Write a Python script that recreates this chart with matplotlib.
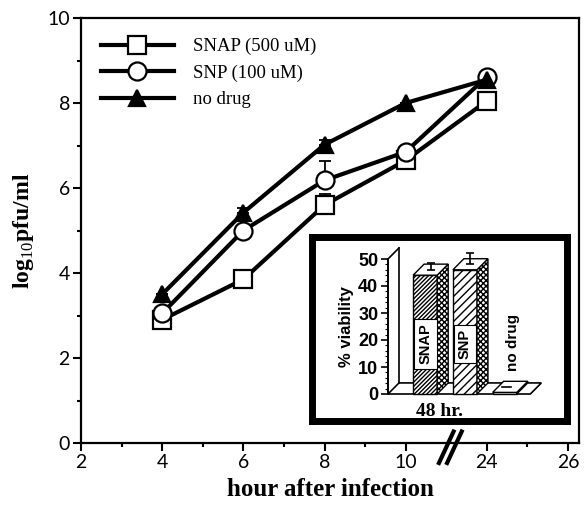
import matplotlib
matplotlib.use("Agg")
import matplotlib.pyplot as plt
from matplotlib.patches import Polygon, Rectangle

# ---- data ----
hours = [4, 6, 8, 10, 24]
snap = [2.9, 3.85, 5.6, 6.65, 8.05]
snp = [3.05, 5.0, 6.18, 6.85, 8.62]
no_drug = [3.5, 5.42, 7.02, 8.0, 8.55]
snap_err = [0, 0, 0.25, 0, 0]
snp_err = [0, 0, 0.45, 0, 0]
no_drug_err = [0, 0.12, 0.12, 0, 0]

series_labels = ["SNAP (500 uM)", "SNP (100 uM)", "no drug"]

tick_hours = [2, 4, 6, 8, 10, 24, 26]
minor_hours = [3, 5, 7, 9, 25]

inset_labels = ["SNAP", "SNP", "no drug"]
viability = [44, 46, 0.6]
viability_err = [2.5, 4, 0]

# broken x axis: 24 h sits two units right of 10 h
def xpos(h):
    return h if h <= 10 else h - 12

plt.rcParams["font.family"] = ["Liberation Serif", "DejaVu Serif"]
plt.rcParams["mathtext.fontset"] = "custom"
plt.rcParams["mathtext.rm"] = "Liberation Serif"
plt.rcParams["hatch.linewidth"] = 1.0

fig = plt.figure(figsize=(5.87, 5.05), dpi=100)
ax = fig.add_axes([81 / 587, 62 / 505, 498 / 587, 425 / 505])

x = [xpos(h) for h in hours]
styles = [
    (snap, snap_err, "s", 12.5),
    (snp, snp_err, "o", 13),
    (no_drug, no_drug_err, "^", 12),
]
for (vals, err, mk, ms), lab in zip(styles, series_labels):
    ax.errorbar(x, vals, yerr=[[0] * len(err), err], fmt="none", ecolor="black",
                elinewidth=1.3, capsize=4, capthick=1.3, zorder=2)
    ax.plot(x, vals, color="black", lw=3, marker=mk, ms=ms,
            mfc="black" if mk == "^" else "white", mec="black", mew=1.6,
            label=lab, zorder=3)

ax.set_xlim(2, 14.27)
ax.set_ylim(0, 10)
ax.set_xticks([xpos(h) for h in tick_hours])
ax.set_xticklabels([str(h) for h in tick_hours])
ax.set_xticks([xpos(h) for h in minor_hours], minor=True)
ax.set_yticks(range(0, 11, 2))
ax.set_yticks(range(1, 10, 2), minor=True)
for lbl in ax.get_xticklabels() + ax.get_yticklabels():
    lbl.set_family("Lato")
    lbl.set_fontsize(14)
ax.tick_params(which="major", direction="out", length=6, width=1.5, pad=2)
ax.tick_params(which="minor", direction="out", length=3, width=1.5)
for s in ax.spines.values():
    s.set_linewidth(1.6)

ax.set_xlabel("hour after infection", fontsize=18, fontweight="bold", labelpad=5)
ax.set_ylabel("log$_{10}$pfu/ml", fontsize=17, fontweight="bold", labelpad=8)

# break marks on the x axis
for off in (0, 0.2):
    ax.plot([10.82 + off, 11.18 + off], [-0.47, 0.27], color="black", lw=3,
            clip_on=False, zorder=5)

ax.legend(loc="upper left", bbox_to_anchor=(0.04, 0.953), frameon=False,
          fontsize=13.5, handlelength=3.9, handletextpad=1.0,
          labelspacing=0.5, borderaxespad=0, borderpad=0)

# ---- inset ----
frame = fig.add_axes([311.5 / 587, (505 - 420.5) / 505, 255 / 587, 184 / 505])
frame.set_xticks([])
frame.set_yticks([])
for s in frame.spines.values():
    s.set_linewidth(5)
frame.set_zorder(4)

ia = fig.add_axes([388 / 587, (505 - 394) / 505, 157 / 587, 135 / 505])
ia.set_zorder(5)
ia.patch.set_alpha(0)
ia.set_xlim(0, 3)
ia.set_ylim(0, 50)
for side in ("top", "right", "bottom"):
    ia.spines[side].set_visible(False)
ia.spines["left"].set_linewidth(1.4)
ia.set_xticks([])
ia.set_yticks(range(0, 51, 10))
ia.set_yticks(range(0, 51, 2), minor=True)
ia.tick_params(which="major", direction="out", length=5, width=1.2, pad=2)
ia.tick_params(which="minor", direction="out", length=2, width=0.8)
for lbl in ia.get_yticklabels():
    lbl.set_family("Liberation Sans")
    lbl.set_fontweight("bold")
    lbl.set_fontsize(13)
ia.set_ylabel("% viability", family="Liberation Sans", fontweight="bold",
              fontsize=12, labelpad=3)
ia.set_xlabel("48 hr.", fontsize=14, fontweight="bold")
ia.xaxis.set_label_coords(52 / 157, -0.07)

dx, dy = 0.21, 4.1
floor_r = 2.72
ia.add_patch(Polygon([(0, 0), (floor_r, 0), (floor_r + dx, dy), (dx, dy)],
                     closed=True, fc="white", ec="black", lw=1.2, clip_on=False))
ia.plot([dx, dx], [dy, 50 + dy], color="black", lw=1.2, clip_on=False)
ia.plot([0, dx], [50, 50 + dy], color="black", lw=1.2, clip_on=False)

centers = [0.71, 1.47, 2.23]
w = 0.46
front_hatch = ["////////", "////", ""]
for c, v, e, h, lab in zip(centers, viability, viability_err, front_hatch, inset_labels):
    x0 = c - w / 2
    ia.add_patch(Rectangle((x0, 0), w, v, fc="white", ec="black", lw=1.0,
                           hatch=h, clip_on=False))
    ia.add_patch(Polygon([(x0 + w, 0), (x0 + w + dx, dy), (x0 + w + dx, v + dy), (x0 + w, v)],
                         closed=True, fc="white", ec="black", lw=1.0,
                         hatch="xxxxxx" if h else "", clip_on=False))
    ia.add_patch(Polygon([(x0, v), (x0 + w, v), (x0 + w + dx, v + dy), (x0 + dx, v + dy)],
                         closed=True, fc="white", ec="black", lw=1.0, clip_on=False))
    if e > 0:
        ia.errorbar([c + dx / 2], [v + dy / 2], yerr=[[0], [e]], fmt="none",
                    ecolor="black", elinewidth=1.2, capsize=3, capthick=1.2,
                    clip_on=False)
    if h:
        ia.text(c, 18.5, lab, rotation=90, ha="center", va="center",
                family="Liberation Sans", fontweight="bold", fontsize=10.5,
                bbox=dict(boxstyle="square,pad=0.3", fc="white", ec="black", lw=0.8))
    else:
        ia.plot([c - 0.05, c + 0.12], [v + dy / 2, v + dy / 2], color="black", lw=1.2,
                clip_on=False)
        ia.text(c + 0.16, 19, lab, rotation=90, ha="center", va="center",
                family="Liberation Sans", fontweight="bold", fontsize=11)

fig.savefig("out.png", dpi=100)
